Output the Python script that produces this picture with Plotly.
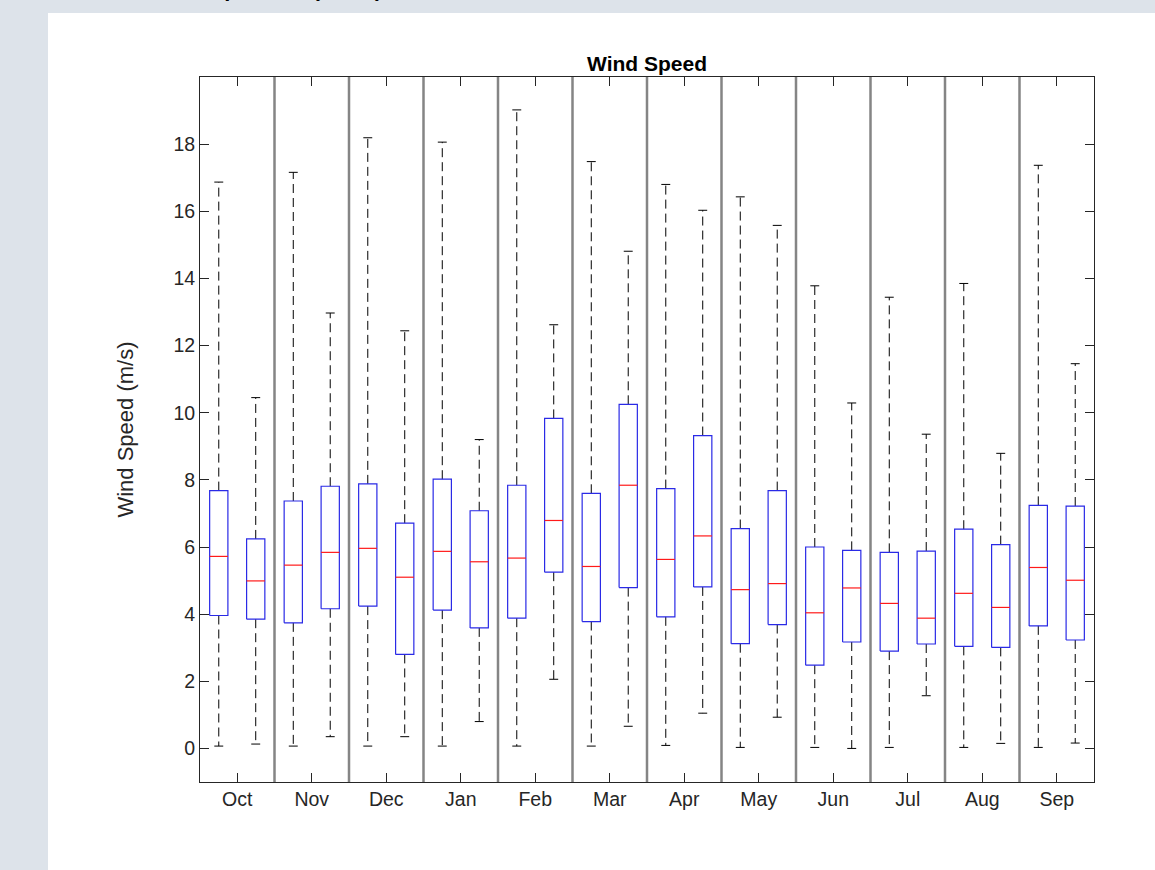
import plotly.graph_objects as go

# Monthly wind speed box statistics (m/s); two boxes per month
months = ["Oct", "Nov", "Dec", "Jan", "Feb", "Mar",
          "Apr", "May", "Jun", "Jul", "Aug", "Sep"]

lower = [0.07, 0.13, 0.07, 0.35, 0.07, 0.35, 0.07, 0.80, 0.07, 2.06, 0.07, 0.66,
         0.09, 1.05, 0.03, 0.93, 0.03, 0.00, 0.03, 1.57, 0.03, 0.15, 0.03, 0.16]
q1 = [3.96, 3.85, 3.74, 4.16, 4.24, 2.80, 4.12, 3.59, 3.88, 5.25, 3.78, 4.79,
      3.92, 4.81, 3.12, 3.69, 2.48, 3.17, 2.90, 3.11, 3.04, 3.01, 3.65, 3.23]
median = [5.72, 4.99, 5.46, 5.84, 5.96, 5.10, 5.87, 5.56, 5.67, 6.79, 5.42, 7.84,
          5.63, 6.33, 4.73, 4.91, 4.04, 4.78, 4.32, 3.88, 4.62, 4.20, 5.39, 5.01]
q3 = [7.68, 6.24, 7.37, 7.81, 7.88, 6.71, 8.02, 7.08, 7.84, 9.83, 7.60, 10.25,
      7.74, 9.32, 6.55, 7.68, 6.00, 5.90, 5.84, 5.88, 6.53, 6.07, 7.24, 7.22]
upper = [16.87, 10.45, 17.16, 12.97, 18.19, 12.44, 18.06, 9.20, 19.02, 12.62, 17.48, 14.81,
         16.80, 16.03, 16.43, 15.58, 13.78, 10.29, 13.44, 9.36, 13.85, 8.79, 17.37, 11.46]

y_ticks = list(range(0, 20, 2))

BOX_OFFSET = 0.248   # distance of each box from its month centre
BOX_HALF = 0.1225    # half box width
CAP_HALF = 0.06      # half whisker-cap width

box_x, box_y = [], []
med_x, med_y = [], []
wh_x, wh_y = [], []
cap_x, cap_y = [], []
for i in range(len(median)):
    month_pos = i // 2 + 1
    xc = month_pos + (-BOX_OFFSET if i % 2 == 0 else BOX_OFFSET)
    xl, xr = xc - BOX_HALF, xc + BOX_HALF
    box_x += [xl, xr, xr, xl, xl, None]
    box_y += [q1[i], q1[i], q3[i], q3[i], q1[i], None]
    med_x += [xl, xr, None]
    med_y += [median[i], median[i], None]
    wh_x += [xc, xc, None, xc, xc, None]
    wh_y += [q3[i], upper[i], None, q1[i], lower[i], None]
    cap_x += [xc - CAP_HALF, xc + CAP_HALF, None, xc - CAP_HALF, xc + CAP_HALF, None]
    cap_y += [upper[i], upper[i], None, lower[i], lower[i], None]

fig = go.Figure()
fig.add_trace(go.Scatter(x=wh_x, y=wh_y, mode="lines", hoverinfo="skip",
                         line=dict(color="#000000", width=1, dash="9px,5px")))
fig.add_trace(go.Scatter(x=cap_x, y=cap_y, mode="lines", hoverinfo="skip",
                         line=dict(color="#000000", width=1)))
fig.add_trace(go.Scatter(x=box_x, y=box_y, mode="lines", hoverinfo="skip",
                         line=dict(color="#2a2ae6", width=1.2)))
fig.add_trace(go.Scatter(x=med_x, y=med_y, mode="lines", hoverinfo="skip",
                         line=dict(color="#ff1a1a", width=1.2)))

# White page panel and grey separators between months
shapes = [
    dict(type="rect", xref="paper", yref="paper", x0=-0.170, x1=1.07,
         y0=-0.13, y1=1.0908, fillcolor="white", line=dict(width=0), layer="below")
]
for k in range(1, len(months)):
    shapes.append(dict(type="line", xref="x", yref="paper", x0=k + 0.5, x1=k + 0.5,
                       y0=0, y1=1, line=dict(color="#858585", width=2.5), layer="above"))

FAMILY = "Liberation Sans, Arial, sans-serif"
axis_font = dict(family=FAMILY, size=19.5, color="#262626")

fig.update_layout(
    width=1155, height=870,
    margin=dict(l=200, r=61, t=77, b=88),
    paper_bgcolor="#dde3ea",
    plot_bgcolor="white",
    showlegend=False,
    shapes=shapes,
    font=axis_font,
    title=dict(text="<b>Wind Speed</b>", x=0.5, xref="paper", xanchor="center",
               y=1, yref="paper", yanchor="bottom", pad=dict(b=6),
               font=dict(family=FAMILY, size=21, color="black")),
    annotations=[
        dict(text="Wind Speed (m/s)", xref="paper", yref="paper", x=0.056, y=1.1045,
             xanchor="center", yanchor="bottom", showarrow=False,
             font=dict(family=FAMILY, size=34, color="black"))
    ],
)

fig.update_xaxes(
    range=[0.5, len(months) + 0.5],
    tickmode="array", tickvals=list(range(1, len(months) + 1)), ticktext=months,
    ticks="inside", ticklen=9, tickwidth=1, tickcolor="#262626",
    showline=True, linecolor="#262626", linewidth=1, mirror="ticks",
    showgrid=False, zeroline=False, tickfont=axis_font,
)
fig.update_yaxes(
    range=[-1, 20],
    tickmode="array", tickvals=y_ticks,
    ticks="inside", ticklen=9, tickwidth=1, tickcolor="#262626",
    showline=True, linecolor="#262626", linewidth=1, mirror="ticks",
    showgrid=False, zeroline=False, tickfont=axis_font,
    title=dict(text="Wind Speed (m/s)", standoff=33,
               font=dict(family=FAMILY, size=22, color="#262626")),
)

fig.write_html("out.html")
